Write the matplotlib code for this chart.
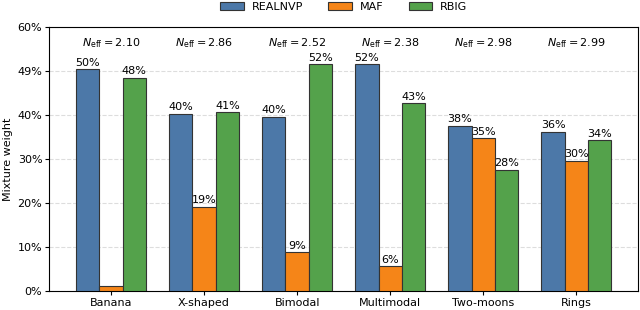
import numpy as np
import matplotlib
matplotlib.use("Agg")
import matplotlib.pyplot as plt

# data
datasets = ["Banana", "X-shaped", "Bimodal", "Multimodal", "Two-moons", "Rings"]
realnvp = [0.504, 0.403, 0.396, 0.516, 0.376, 0.362]
maf = [0.011, 0.192, 0.089, 0.057, 0.348, 0.296]
rbig = [0.485, 0.406, 0.515, 0.427, 0.276, 0.343]
n_eff = [2.10, 2.86, 2.52, 2.38, 2.98, 2.99]
ytick_vals = [0.0, 0.1, 0.2, 0.3, 0.4, 0.5, 0.6]
ytick_labels = ["0%", "10%", "20%", "30%", "40%", "49%", "60%"]

series = [("REALNVP", realnvp, "#4C78A8"),
          ("MAF", maf, "#F58518"),
          ("RBIG", rbig, "#54A24B")]

fig, ax = plt.subplots(figsize=(6.4, 3.1), dpi=100)
x = np.arange(len(datasets))
width = 0.25

for i, (name, vals, col) in enumerate(series):
    bars = ax.bar(x + (i - 1) * width, vals, width, color=col,
                  edgecolor="#333333", linewidth=0.8, label=name, zorder=3)
    labels = [f"{v:.0%}" if v > 0.02 else "" for v in vals]
    ax.bar_label(bars, labels=labels, padding=1, fontsize=8)

for xi, ne in zip(x, n_eff):
    ax.text(xi, 0.564, rf"$N_{{\rm eff}} = {ne:.2f}$", ha="center",
            va="center", fontsize=8)

ax.set_ylim(0, 0.6)
ax.set_yticks(ytick_vals)
ax.set_yticklabels(ytick_labels)
ax.set_xticks(x)
ax.set_xticklabels(datasets)
ax.tick_params(labelsize=8, length=3, pad=2)
ax.set_ylabel("Mixture weight", fontsize=8, labelpad=3)
ax.grid(axis="y", linestyle="--", color="#dddddd", linewidth=0.8, zorder=0)
ax.set_axisbelow(True)

ax.legend(loc="lower center", bbox_to_anchor=(0.5, 1.035), ncol=3,
          frameon=False, fontsize=8, handlelength=2.1, handletextpad=0.7,
          columnspacing=2.3, borderaxespad=0.15)

fig.subplots_adjust(left=0.077, right=0.997, bottom=0.061, top=0.913)
fig.savefig("out.png", dpi=100)
